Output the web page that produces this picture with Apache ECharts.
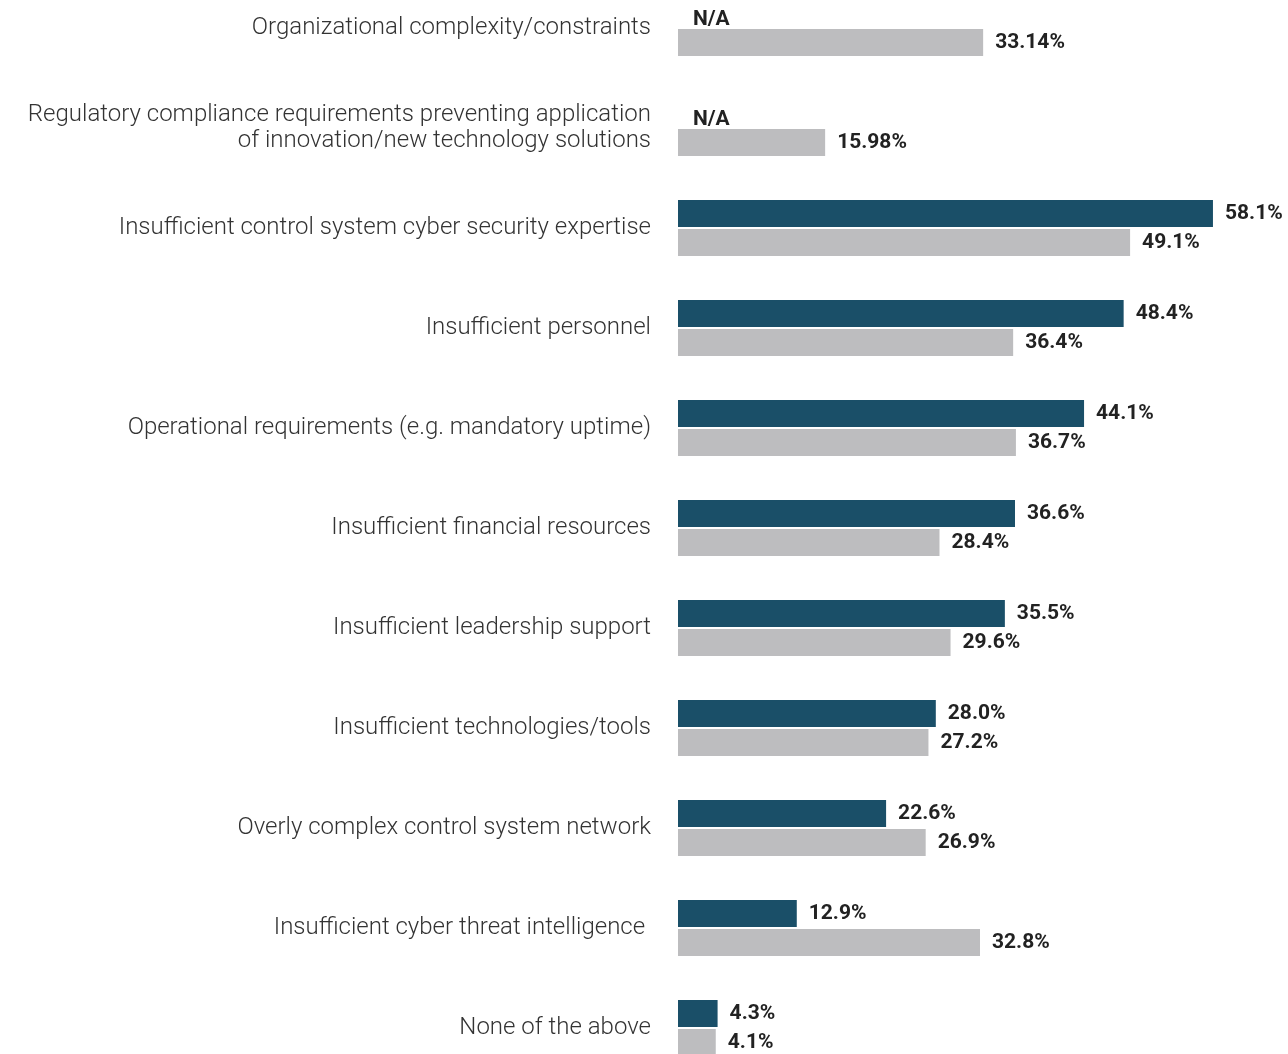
<!DOCTYPE html>
<html lang="en">
<head>
    <meta charset="utf-8">
    <title>Challenges</title>
    <script src="https://cdn.jsdelivr.net/npm/echarts@6/dist/echarts.min.js"></script>
    <style>
        html, body { margin: 0; padding: 0; background: #fff; }
    </style>
</head>
<body>
<div id="main" style="width:1288px;height:1054px"></div>
<script type="text/javascript">
    // categories, top to bottom
    var categories = [
        'Organizational complexity/constraints',
        'Regulatory compliance requirements preventing application\nof innovation/new technology solutions',
        'Insufficient control system cyber security expertise',
        'Insufficient personnel',
        'Operational requirements (e.g. mandatory uptime)',
        'Insufficient financial resources',
        'Insufficient leadership support',
        'Insufficient technologies/tools',
        'Overly complex control system network',
        'Insufficient cyber threat intelligence ',
        'None of the above'
    ];
    // dark series (null = N/A)
    var darkValues = [null, null, 58.1, 48.4, 44.1, 36.6, 35.5, 28.0, 22.6, 12.9, 4.3];
    // grey series
    var greyValues = [33.14, 15.98, 49.1, 36.4, 36.7, 28.4, 29.6, 27.2, 26.9, 32.8, 4.1];

    function fmt(v) {
        var s = String(v);
        var dec = s.indexOf('.') >= 0 ? s.split('.')[1].length : 0;
        return (dec >= 2 ? s : Number(v).toFixed(1)) + '%';
    }

    var valueLabel = {
        show: true,
        position: 'right',
        distance: 12,
        color: '#222',
        fontFamily: 'Roboto',
        fontWeight: 'bold',
        fontSize: 21
    };

    var myChart = echarts.init(document.getElementById('main'));
    var option = {
        animation: false,
        grid: {
            left: 678,
            width: 610,
            top: 28,
            height: 1000
        },
        xAxis: {
            type: 'value',
            min: 0,
            max: 66.25,
            show: false
        },
        yAxis: {
            type: 'category',
            inverse: true,
            boundaryGap: false,
            data: categories,
            axisLine: { show: false },
            axisTick: { show: false },
            splitLine: { show: false },
            axisLabel: {
                margin: 27,
                color: '#333',
                fontFamily: 'Roboto',
                fontWeight: 300,
                fontSize: 24,
                lineHeight: 26,
                align: 'right',
                padding: [4, 0, 0, 0]
            }
        },
        series: [{
            type: 'bar',
            barWidth: 27,
            barGap: '7.4%',
            itemStyle: { color: '#1a4f68' },
            label: Object.assign({}, valueLabel, {
                formatter: function (p) {
                    return darkValues[p.dataIndex] === null ? 'N/A' : fmt(darkValues[p.dataIndex]);
                }
            }),
            data: darkValues.map(function (v) {
                return v === null ? { value: 0, label: { offset: [3, 6] } } : v;
            })
        }, {
            type: 'bar',
            barWidth: 27,
            itemStyle: { color: '#bdbdbf' },
            label: Object.assign({}, valueLabel, {
                formatter: function (p) { return fmt(greyValues[p.dataIndex]); }
            }),
            data: greyValues
        }]
    };
    myChart.setOption(option);
</script>
</body>
</html>
